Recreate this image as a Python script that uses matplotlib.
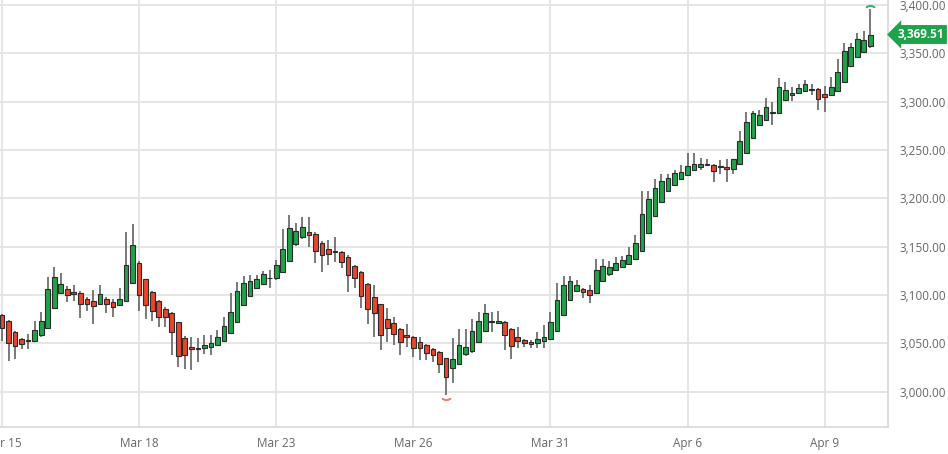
import matplotlib
matplotlib.use("Agg")
import matplotlib.pyplot as plt
import matplotlib.transforms as mtransforms
from matplotlib.ticker import FuncFormatter
import numpy as np

plt.rcParams['font.family'] = ['Open Sans', 'DejaVu Sans']

# OHLC values, one entry per candle
opens = [3079.6, 3073.4, 3061.3, 3054.4, 3052.0, 3052.7, 3058.6, 3065.8, 3086.5, 3102.4,
         3106.2, 3103.4, 3101.7, 3095.8, 3093.4, 3090.7, 3095.8, 3093.0, 3090.0, 3094.1,
         3112.0, 3132.8, 3116.2, 3103.1, 3093.8, 3085.8, 3081.0, 3071.7, 3055.1, 3046.2,
         3044.4, 3044.8, 3046.5, 3048.2, 3052.4, 3060.3, 3072.0, 3090.0, 3099.3, 3106.9,
         3111.4, 3117.2, 3117.2, 3124.1, 3135.5, 3152.4, 3159.7, 3164.8, 3163.5, 3154.3,
         3147.6, 3144.8, 3144.8, 3139.7, 3130.0, 3123.8, 3111.0, 3098.3, 3090.3, 3074.8,
         3070.7, 3065.1, 3058.6, 3056.9, 3051.0, 3048.2, 3043.7, 3041.0, 3034.8, 3024.8,
         3028.5, 3038.5, 3041.9, 3051.9, 3062.6, 3071.9, 3071.2, 3072.6, 3065.0, 3056.4,
         3054.0, 3051.9, 3050.5, 3052.9, 3054.7, 3063.3, 3079.5, 3095.1, 3104.0, 3106.5,
         3104.8, 3102.3, 3114.1, 3121.3, 3125.5, 3128.9, 3132.4, 3136.9, 3145.5, 3164.5,
         3181.8, 3196.3, 3207.3, 3214.2, 3219.7, 3223.9, 3229.1, 3232.5, 3234.2, 3234.9,
         3232.5, 3232.5, 3230.8, 3236.0, 3247.4, 3262.9, 3275.7, 3280.8, 3288.4, 3287.8,
         3301.6, 3306.7, 3308.5, 3311.2, 3313.6, 3313.0, 3307.8, 3306.7, 3310.8, 3320.6,
         3336.8, 3346.5, 3351.7, 3357.5]
highs = [3080.5, 3074.0, 3063.0, 3056.0, 3060.0, 3072.7, 3082.0, 3118.3, 3129.3, 3122.4,
         3109.6, 3110.7, 3104.5, 3098.3, 3105.2, 3110.7, 3097.6, 3095.8, 3107.2, 3164.8,
         3173.1, 3135.0, 3117.0, 3104.0, 3095.0, 3088.0, 3082.0, 3072.0, 3057.5, 3056.9,
         3055.1, 3058.6, 3058.6, 3063.8, 3077.6, 3101.7, 3113.8, 3119.6, 3120.7, 3120.7,
         3124.8, 3125.8, 3136.2, 3167.9, 3182.8, 3174.2, 3181.0, 3180.4, 3165.0, 3156.0,
         3156.9, 3160.4, 3146.0, 3141.0, 3131.0, 3125.0, 3112.0, 3110.3, 3091.0, 3086.2,
         3076.9, 3066.0, 3069.6, 3058.0, 3056.9, 3049.0, 3044.8, 3042.0, 3035.0, 3055.1,
         3065.2, 3065.2, 3075.4, 3082.3, 3090.9, 3082.3, 3083.3, 3073.0, 3066.0, 3066.7,
         3055.0, 3053.0, 3061.6, 3068.5, 3082.3, 3112.3, 3119.2, 3119.2, 3115.1, 3107.0,
         3110.0, 3136.9, 3137.6, 3134.8, 3139.3, 3140.0, 3149.6, 3162.4, 3207.3, 3207.3,
         3220.4, 3225.6, 3225.6, 3229.1, 3234.9, 3247.0, 3247.0, 3242.2, 3241.1, 3236.0,
         3239.4, 3241.1, 3241.0, 3269.8, 3289.5, 3290.5, 3291.2, 3304.0, 3299.8, 3325.0,
         3320.6, 3315.4, 3318.8, 3322.3, 3318.8, 3314.0, 3316.0, 3325.7, 3343.7, 3360.3,
         3360.3, 3371.4, 3373.1, 3395.5]
lows = [3052.7, 3032.0, 3033.7, 3044.0, 3044.0, 3052.0, 3057.0, 3065.0, 3086.0, 3101.0,
        3092.4, 3093.4, 3076.2, 3083.0, 3070.0, 3090.0, 3081.0, 3076.9, 3089.0, 3093.0,
        3111.0, 3084.0, 3074.8, 3073.4, 3067.2, 3067.0, 3037.9, 3025.8, 3024.0, 3022.4,
        3031.0, 3039.0, 3037.9, 3047.5, 3052.0, 3060.0, 3071.0, 3089.0, 3099.0, 3106.0,
        3111.0, 3106.9, 3116.0, 3123.0, 3135.0, 3151.0, 3158.0, 3150.0, 3132.8, 3123.5,
        3131.0, 3134.5, 3127.6, 3103.4, 3107.0, 3087.0, 3070.0, 3056.9, 3043.1, 3051.7,
        3048.2, 3037.9, 3046.5, 3036.2, 3032.7, 3032.7, 3031.0, 3018.9, 2996.5, 3009.2,
        3028.0, 3037.0, 3040.0, 3051.0, 3062.0, 3061.6, 3070.0, 3043.3, 3034.0, 3045.3,
        3046.0, 3045.3, 3045.3, 3045.3, 3054.0, 3063.0, 3079.0, 3095.0, 3103.0, 3097.0,
        3091.6, 3101.0, 3113.0, 3120.0, 3125.0, 3128.0, 3132.0, 3136.0, 3145.0, 3164.0,
        3181.0, 3196.0, 3207.0, 3214.0, 3219.0, 3223.0, 3229.0, 3229.0, 3233.0, 3217.0,
        3225.6, 3217.0, 3225.6, 3235.0, 3247.0, 3262.0, 3275.0, 3280.0, 3275.7, 3287.0,
        3301.0, 3300.9, 3308.0, 3311.0, 3306.7, 3291.9, 3289.5, 3306.0, 3310.0, 3320.0,
        3336.0, 3346.0, 3350.0, 3355.1]
closes = [3065.8, 3050.0, 3047.5, 3049.3, 3053.4, 3064.1, 3073.4, 3106.2, 3118.3, 3111.4,
          3100.3, 3101.0, 3090.7, 3090.7, 3088.2, 3101.0, 3090.7, 3087.2, 3095.8, 3131.0,
          3151.7, 3100.0, 3089.6, 3083.4, 3076.9, 3076.9, 3062.0, 3037.2, 3037.9, 3044.1,
          3044.8, 3048.6, 3050.6, 3056.9, 3067.9, 3082.7, 3104.1, 3112.0, 3114.8, 3116.5,
          3121.7, 3117.6, 3131.0, 3147.2, 3169.0, 3166.6, 3170.7, 3162.1, 3146.0, 3141.4,
          3142.4, 3144.5, 3134.5, 3120.7, 3117.2, 3098.6, 3085.1, 3081.7, 3058.6, 3066.2,
          3059.6, 3051.7, 3056.2, 3045.5, 3044.8, 3039.6, 3037.9, 3028.6, 3014.8, 3033.4,
          3048.0, 3045.8, 3062.3, 3073.6, 3081.6, 3072.2, 3073.6, 3059.1, 3047.1, 3052.9,
          3050.2, 3049.5, 3054.7, 3057.1, 3071.9, 3094.4, 3110.6, 3114.4, 3109.9, 3103.0,
          3099.6, 3125.5, 3129.6, 3128.9, 3133.1, 3136.5, 3141.0, 3154.1, 3184.2, 3199.0,
          3210.8, 3218.0, 3221.1, 3226.3, 3227.3, 3233.6, 3236.0, 3235.3, 3236.0, 3228.0,
          3232.8, 3230.1, 3240.4, 3259.1, 3279.1, 3287.8, 3286.7, 3294.7, 3288.7, 3314.7,
          3311.9, 3309.2, 3314.3, 3317.8, 3311.9, 3302.3, 3305.0, 3315.4, 3330.6, 3352.4,
          3356.9, 3364.5, 3363.8, 3369.51]

tick_positions = [0, 21, 42, 63, 84, 105, 126]
tick_labels = ['Mar 15', 'Mar 18', 'Mar 23', 'Mar 26', 'Mar 31', 'Apr 6', 'Apr 9']
last_price = 3369.51

green = '#1fa34a'
red = '#e8452c'

o = np.array(opens)
h = np.array(highs)
l = np.array(lows)
c = np.array(closes)
x = np.arange(len(o))

fig = plt.figure(figsize=(9.48, 4.54), dpi=100)
ax = fig.add_axes([0.0, 27 / 454, 888 / 948, 427 / 454])

# wicks first, bodies on top
ax.vlines(x, l, h, color='#6e6e6e', linewidth=1.3, zorder=2)
bottoms = np.minimum(o, c)
heights = np.maximum(np.abs(c - o), 0.9)
colors = [green if cc >= oo else red for oo, cc in zip(o, c)]
ax.bar(x, heights, bottom=bottoms, width=0.72, color=colors,
       edgecolor='#2b2b2b', linewidth=0.8, zorder=3)

# small high / low markers
ax.plot([x[-1]], [h[-1] + 3], marker=r'$\frown$', color='#3cb371',
        markersize=6, zorder=4, clip_on=False)
ax.plot([68], [l[68] - 4], marker=r'$\smile$', color='#f08070',
        markersize=6, zorder=4)

ax.set_xlim(-0.31, 135.7)
ax.set_ylim(2963.5, 3405.2)

ax.set_yticks(np.arange(3000, 3401, 50))
ax.yaxis.set_major_formatter(FuncFormatter(lambda v, p: f'{v:,.2f}'))
ax.yaxis.tick_right()
ax.set_xticks(tick_positions)
ax.set_xticklabels(tick_labels)
ax.tick_params(axis='both', length=0, labelsize=8.5, labelcolor='#666666')
ax.tick_params(axis='y', pad=8.5)
ax.tick_params(axis='x', pad=7)

ax.grid(True, color='#e3e3e3', linewidth=1.3, zorder=0)
ax.set_axisbelow(True)
for side in ['left', 'top']:
    ax.spines[side].set_visible(False)
for side in ['bottom', 'right']:
    ax.spines[side].set_color('#d8d8d8')
    ax.spines[side].set_linewidth(1.2)

# current price tag
trans = mtransforms.blended_transform_factory(ax.transAxes, ax.transData)
ax.text(1.0105, last_price, f'{last_price:,.2f}', transform=trans,
        ha='left', va='center', fontsize=8.5, fontweight='bold', color='white',
        bbox=dict(boxstyle='larrow,pad=0.25', fc=green, ec='none'), zorder=5)

fig.savefig('out.png', dpi=100)
plt.close(fig)
